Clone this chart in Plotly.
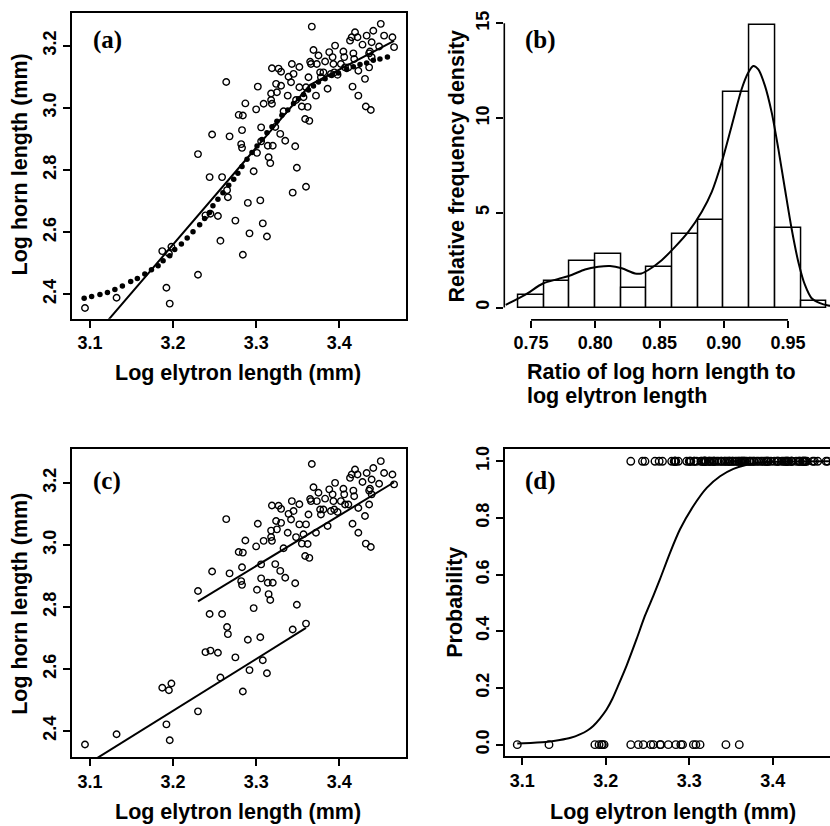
import plotly.graph_objects as go

W, H = 830, 826

# ---------------- data ----------------
elytron = [3.094, 3.132, 3.187, 3.195, 3.198, 3.192, 3.196, 3.230, 3.230, 3.247,
           3.244, 3.239, 3.245, 3.254, 3.259, 3.257, 3.264, 3.268, 3.265, 3.266,
           3.275, 3.279, 3.284, 3.287, 3.283, 3.282, 3.283, 3.284, 3.290, 3.292,
           3.297, 3.300, 3.302, 3.301, 3.306, 3.306, 3.305, 3.308, 3.313, 3.309,
           3.315, 3.317, 3.314, 3.320, 3.318, 3.318, 3.319, 3.319, 3.323, 3.324,
           3.325, 3.327, 3.330, 3.330, 3.329, 3.335, 3.333, 3.338, 3.339, 3.343,
           3.342, 3.345, 3.344, 3.347, 3.349, 3.348, 3.352, 3.352, 3.355, 3.357,
           3.360, 3.359, 3.364, 3.360, 3.362, 3.363, 3.365, 3.367, 3.369, 3.366,
           3.372, 3.373, 3.375, 3.377, 3.378, 3.381, 3.383, 3.386, 3.388, 3.390,
           3.392, 3.393, 3.395, 3.394, 3.398, 3.402, 3.405, 3.406, 3.407, 3.415,
           3.413, 3.417, 3.418, 3.419, 3.416, 3.422, 3.423, 3.423, 3.428, 3.431,
           3.433, 3.436, 3.436, 3.432, 3.438, 3.439, 3.441, 3.439, 3.448, 3.450,
           3.454, 3.464, 3.466, 3.437, 3.411]
horn = [2.356, 2.389, 2.539, 2.531, 2.553, 2.421, 2.370, 2.463, 2.851, 2.914,
        2.777, 2.654, 2.659, 2.652, 2.777, 2.572, 3.083, 2.908, 2.735, 2.712,
        2.637, 2.977, 2.975, 3.014, 2.928, 2.883, 2.871, 2.527, 2.694, 2.596,
        2.796, 2.995, 3.068, 2.855, 2.937, 2.892, 2.702, 2.628, 2.586, 3.013,
        2.841, 2.822, 2.878, 2.878, 3.046, 3.025, 3.013, 3.127, 2.938, 3.077,
        3.050, 3.126, 3.116, 3.071, 2.916, 2.894, 2.989, 3.039, 3.100, 3.141,
        3.082, 3.109, 2.727, 2.876, 2.807, 3.025, 3.066, 3.131, 3.004, 3.034,
        3.066, 2.964, 2.958, 2.746, 3.003, 3.098, 3.148, 3.261, 3.186, 3.141,
        3.039, 3.141, 3.168, 3.114, 3.098, 3.114, 3.149, 3.061, 3.179, 3.109,
        3.163, 3.141, 3.200, 3.114, 3.106, 3.141, 3.181, 3.163, 3.130, 3.227,
        3.216, 3.175, 3.157, 3.243, 3.068, 3.227, 3.119, 3.039, 3.203, 3.093,
        3.232, 3.175, 3.130, 3.004, 2.993, 3.211, 3.248, 3.163, 3.197, 3.270,
        3.232, 3.227, 3.195, 3.181, 3.130]
# 1 = upper (horned) group, 0 = lower group
group = [0, 0, 0, 0, 0, 0, 0, 0, 1, 1,
         1, 0, 0, 0, 1, 0, 1, 1, 0, 0,
         0, 1, 1, 1, 1, 1, 1, 0, 0, 0,
         1, 1, 1, 1, 1, 1, 0, 0, 0, 1,
         1, 1, 1, 1, 1, 1, 1, 1, 1, 1,
         1, 1, 1, 1, 1, 1, 1, 1, 1, 1,
         1, 1, 0, 1, 1, 1, 1, 1, 1, 1,
         1, 1, 1, 0, 1, 1, 1, 1, 1, 1,
         1, 1, 1, 1, 1, 1, 1, 1, 1, 1,
         1, 1, 1, 1, 1, 1, 1, 1, 1, 1,
         1, 1, 1, 1, 1, 1, 1, 1, 1, 1,
         1, 1, 1, 1, 1, 1, 1, 1, 1, 1,
         1, 1, 1, 1, 1]

# panel (a): broken-stick fit and nonlinear fitted values (filled dots)
lin_a_x = [3.094, 3.365, 3.466]
lin_a_y = [2.230, 3.074, 3.215]
curve_a_x = [3.093, 3.102, 3.112, 3.121, 3.130, 3.139, 3.149, 3.157, 3.166, 3.174,
             3.182, 3.188, 3.196, 3.202, 3.210, 3.217, 3.224, 3.232, 3.238, 3.244,
             3.248, 3.254, 3.260, 3.267, 3.273, 3.278, 3.283, 3.289, 3.295, 3.301,
             3.307, 3.313, 3.319, 3.325, 3.331, 3.338, 3.345, 3.351, 3.357, 3.363,
             3.369, 3.375, 3.383, 3.391, 3.399, 3.409, 3.417, 3.425, 3.433, 3.441,
             3.449, 3.458]
curve_a_y = [2.387, 2.393, 2.399, 2.406, 2.415, 2.427, 2.441, 2.451, 2.465, 2.479,
             2.492, 2.508, 2.524, 2.544, 2.562, 2.581, 2.601, 2.624, 2.644, 2.663,
             2.685, 2.706, 2.727, 2.751, 2.770, 2.789, 2.811, 2.834, 2.856, 2.877,
             2.898, 2.920, 2.939, 2.957, 2.976, 2.993, 3.014, 3.029, 3.043, 3.057,
             3.070, 3.083, 3.093, 3.104, 3.112, 3.123, 3.132, 3.139, 3.144, 3.153,
             3.157, 3.163]

# panel (b): histogram of ratio and density estimate
bin_left = [0.74, 0.76, 0.78, 0.80, 0.82, 0.84, 0.86, 0.88, 0.90, 0.92, 0.94, 0.96]
bin_density = [0.67, 1.40, 2.45, 2.82, 1.05, 2.12, 3.87, 4.62, 11.38, 14.90, 4.22, 0.35]
bin_width = 0.02
dens_x = [0.7303, 0.7453, 0.7596, 0.7713, 0.7816, 0.7920, 0.8024, 0.8115, 0.8206,
          0.8309, 0.8360, 0.8413, 0.8517, 0.8621, 0.8724, 0.8828, 0.8906, 0.8984,
          0.9062, 0.9139, 0.9191, 0.9230, 0.9269, 0.9321, 0.9373, 0.9425, 0.9476,
          0.9528, 0.9580, 0.9632, 0.9684, 0.9749, 0.9813, 0.9850]
dens_y = [0.14, 0.67, 1.28, 1.51, 1.72, 2.01, 2.15, 2.19, 2.07,
          1.80, 1.80, 1.98, 2.50, 3.20, 3.99, 5.04, 6.09, 7.67,
          9.60, 11.52, 12.40, 12.75, 12.57, 11.70, 10.30, 8.37, 6.27,
          4.17, 2.42, 1.19, 0.49, 0.23, 0.11, 0.08]

# panel (c): separate fits for the two groups
up_line_x = [3.230, 3.466]
up_line_y = [2.818, 3.202]
low_line_x = [3.094, 3.360]
low_line_y = [2.288, 2.732]

# panel (d): logistic fit
logit_x = [3.094, 3.110, 3.131, 3.145, 3.158, 3.169, 3.178, 3.185, 3.193, 3.201,
           3.208, 3.215, 3.225, 3.237, 3.247, 3.257, 3.265, 3.277, 3.289, 3.305,
           3.321, 3.337, 3.353, 3.369, 3.385, 3.420, 3.470]
logit_y = [0.004, 0.006, 0.010, 0.016, 0.024, 0.036, 0.050, 0.066, 0.092, 0.124,
           0.162, 0.209, 0.279, 0.373, 0.455, 0.525, 0.584, 0.677, 0.760, 0.842,
           0.906, 0.947, 0.973, 0.988, 0.996, 0.999, 1.000]

x_ticks = [3.1, 3.2, 3.3, 3.4]
hc_ticks = [2.4, 2.6, 2.8, 3.0, 3.2]
ratio_ticks = [0.75, 0.80, 0.85, 0.90, 0.95]
dens_ticks = [0, 5, 10, 15]
prob_ticks = [0.0, 0.2, 0.4, 0.6, 0.8, 1.0]

# ---------------- figure ----------------
SANS = "Liberation Sans, Arial, sans-serif"
SERIF = "Liberation Serif, Times New Roman, serif"
tickfont = dict(family=SANS, size=18, color="black", weight="bold")
titlefont = dict(family=SANS, size=21.5, color="black", weight="bold")

open_marker = dict(symbol="circle-open", size=6.5, color="black", line=dict(width=1.4, color="black"))

fig = go.Figure()

# (a)
fig.add_trace(go.Scatter(x=elytron, y=horn, mode="markers", marker=open_marker,
                         xaxis="x", yaxis="y", showlegend=False))
fig.add_trace(go.Scatter(x=curve_a_x, y=curve_a_y, mode="markers",
                         marker=dict(symbol="circle", size=5.5, color="black"),
                         xaxis="x", yaxis="y", showlegend=False))
fig.add_trace(go.Scatter(x=lin_a_x, y=lin_a_y, mode="lines",
                         line=dict(color="black", width=2),
                         xaxis="x", yaxis="y", showlegend=False))

# (b)
bin_center = [b + bin_width / 2 for b in bin_left]
fig.add_trace(go.Bar(x=bin_center, y=bin_density, width=[bin_width] * len(bin_left),
                     marker=dict(color="white", line=dict(color="black", width=1.5)),
                     xaxis="x2", yaxis="y2", showlegend=False))
fig.add_trace(go.Scatter(x=dens_x, y=dens_y, mode="lines",
                         line=dict(color="black", width=2, shape="spline", smoothing=0.8),
                         xaxis="x2", yaxis="y2", showlegend=False))

# (c)
fig.add_trace(go.Scatter(x=elytron, y=horn, mode="markers", marker=open_marker,
                         xaxis="x3", yaxis="y3", showlegend=False))
fig.add_trace(go.Scatter(x=up_line_x, y=up_line_y, mode="lines",
                         line=dict(color="black", width=2),
                         xaxis="x3", yaxis="y3", showlegend=False))
fig.add_trace(go.Scatter(x=low_line_x, y=low_line_y, mode="lines",
                         line=dict(color="black", width=2),
                         xaxis="x3", yaxis="y3", showlegend=False))

# (d)
fig.add_trace(go.Scatter(x=elytron, y=group, mode="markers",
                         marker=dict(symbol="circle-open", size=7.5, color="black",
                                     line=dict(width=1.4, color="black")),
                         xaxis="x4", yaxis="y4", showlegend=False))
fig.add_trace(go.Scatter(x=logit_x, y=logit_y, mode="lines",
                         line=dict(color="black", width=2, shape="spline", smoothing=0.6),
                         xaxis="x4", yaxis="y4", showlegend=False))


def px_x(p):
    return p / W


def px_y(p):
    return 1 - p / H


def ax(domain, rng, ticks, ticktext=None, line=True, mirror=True, angle=0, anchor=None):
    d = dict(domain=domain, range=rng, tickmode="array", tickvals=ticks,
             ticks="outside", ticklen=7, tickwidth=1.5, tickcolor="black",
             tickfont=tickfont, showgrid=False, zeroline=False,
             showline=line, linecolor="black", linewidth=1.6, mirror=mirror,
             tickangle=angle, anchor=anchor, ticklabelstandoff=0)
    if ticktext is not None:
        d["ticktext"] = ticktext
    return d


left_dom = [px_x(71.7), px_x(405.7)]
right_dom_b = [px_x(504.3), 1.0]
right_dom_d = [px_x(505), 1.0]
top_dom = [px_y(317), px_y(10)]
top_dom_b = [px_y(318), px_y(9)]
bot_dom = [px_y(757), px_y(448)]
bot_dom_d = [px_y(756), px_y(448)]

fig.update_layout(
    width=W, height=H,
    margin=dict(l=0, r=0, t=0, b=0),
    paper_bgcolor="white", plot_bgcolor="white",
    bargap=0,
    xaxis=ax(left_dom, [3.078, 3.480], x_ticks, anchor="y"),
    yaxis=ax(top_dom, [2.321, 3.305], hc_ticks,
             ticktext=["2.4", "2.6", "2.8", "3.0", "3.2"], angle=-90, anchor="x"),
    xaxis2=ax(right_dom_b, [0.7292, 0.9827], ratio_ticks,
              ticktext=["0.75", "0.80", "0.85", "0.90", "0.95"], line=False, mirror=False, anchor="y2"),
    yaxis2=ax(top_dom_b, [-0.65, 15.6], dens_ticks, line=False, mirror=False, angle=-90, anchor="x2"),
    xaxis3=ax(left_dom, [3.078, 3.480], x_ticks, anchor="y3"),
    yaxis3=ax(bot_dom, [2.315, 3.308], hc_ticks,
              ticktext=["2.4", "2.6", "2.8", "3.0", "3.2"], angle=-90, anchor="x3"),
    xaxis4=ax(right_dom_d, [3.0793, 3.4687], x_ticks, anchor="y4"),
    yaxis4=ax(bot_dom_d, [-0.041, 1.042], prob_ticks,
              ticktext=["0.0", "0.2", "0.4", "0.6", "0.8", "1.0"], mirror=False, angle=-90, anchor="x4"),
)

# partial axis lines for the histogram panel (R style)
fig.add_shape(type="line", xref="x2", yref="y2 domain", x0=0.75, x1=0.95, y0=0, y1=0,
              line=dict(color="black", width=1.6))
fig.add_shape(type="line", xref="x2 domain", yref="y2", x0=0, x1=0, y0=0, y1=15,
              line=dict(color="black", width=1.6))

ann = []


def add_text(text, x, y, font, angle=0, xanchor="center"):
    ann.append(dict(text=text, x=px_x(x), y=px_y(y), xref="paper", yref="paper",
                    showarrow=False, font=font, textangle=angle,
                    xanchor=xanchor, yanchor="middle"))


add_text("Log elytron length (mm)", 238, 371, titlefont)
add_text("Log horn length (mm)", 20, 162, titlefont, angle=-90)
add_text("Relative frequency density", 457, 164, titlefont, angle=-90)
add_text("Ratio of log horn length to", 525, 370, titlefont, xanchor="left")
add_text("log elytron length", 525, 394, titlefont, xanchor="left")
add_text("Log elytron length (mm)", 238, 812, titlefont)
add_text("Log horn length (mm)", 20, 603, titlefont, angle=-90)
add_text("Log elytron length (mm)", 673, 812, titlefont)
add_text("Probability", 455, 602, titlefont, angle=-90)

panelfont = dict(family=SERIF, size=25, color="black", weight="bold")
add_text("(a)", 107, 37, panelfont)
add_text("(b)", 540, 37, panelfont)
add_text("(c)", 107, 480, panelfont)
add_text("(d)", 540, 480, panelfont)

fig.update_layout(annotations=ann)

fig.write_html("out.html", config={"displayModeBar": False},
               post_script="document.body.style.margin='0px';")
